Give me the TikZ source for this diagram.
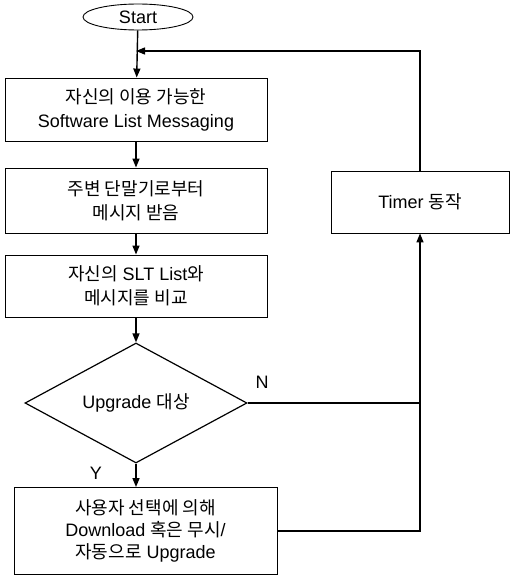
\documentclass[tikz,border=0pt]{standalone}
\usepackage{fontspec}
\usepackage{tikz}
\usetikzlibrary{shapes.geometric,arrows.meta}
\setmainfont{Liberation Sans}
\newfontfamily\kr{Noto Sans CJK KR}

\begin{document}
\begin{tikzpicture}[x=1pt,y=-1pt,
  every node/.style={font=\fontsize{18}{24}\selectfont},
  proc/.style={draw,line width=0.9pt,minimum width=262pt,minimum height=63pt,align=center,inner sep=0pt},
  flow/.style={line width=1.4pt,-{Triangle[length=9pt,width=7pt]}},
  line/.style={line width=1.4pt}]
\useasboundingbox (0,0) rectangle (510,575);
\node[draw,ellipse,line width=0.9pt,minimum width=110pt,minimum height=26pt,inner sep=0pt] (start) at (138,17) {Start};
\node[proc] (sw) at (136,109.5) {{\kr 자신의 이용 가능한}\\Software List Messaging};
\node[proc,minimum height=65pt] (recv) at (136,200.5) {{\kr 주변 단말기로부터}\\{\kr 메시지 받음}};
\node[proc,minimum height=62pt] (cmp) at (136,286) {{\kr 자신의} SLT List{\kr 와}\\{\kr 메시지를 비교}};
\node[draw,diamond,line width=1.2pt,minimum width=222pt,minimum height=120pt,aspect=1.85,inner sep=0pt] (dia) at (136,403) {Upgrade {\kr 대상}};
\node[proc,minimum width=263pt,minimum height=87pt,font=\fontsize{18}{22}\selectfont] (up) at (145.5,531) {{\kr 사용자 선택에 의해}\\Download {\kr 혹은 무시}/\\{\kr 자동으로} Upgrade};
\node[proc,minimum width=178pt,minimum height=62pt] (timer) at (420,202) {Timer {\kr 동작}};
\coordinate (join) at (136,51);
\node (n) at (262,382) {N};
\node (y) at (96,473) {Y};
\draw[flow] (start) -- (sw);
\draw[flow] (timer.north) |- (join);
\draw[flow] (sw) -- (recv);
\draw[flow] (recv) -- (cmp);
\draw[flow] (cmp) -- (dia);
\draw[flow] (dia.south) -- (dia.south |- up.north);
\draw[line] (dia.east) -- (dia.east -| timer.south);
\draw[flow] (up.east) -| (timer.south);
\end{tikzpicture}
\end{document}
